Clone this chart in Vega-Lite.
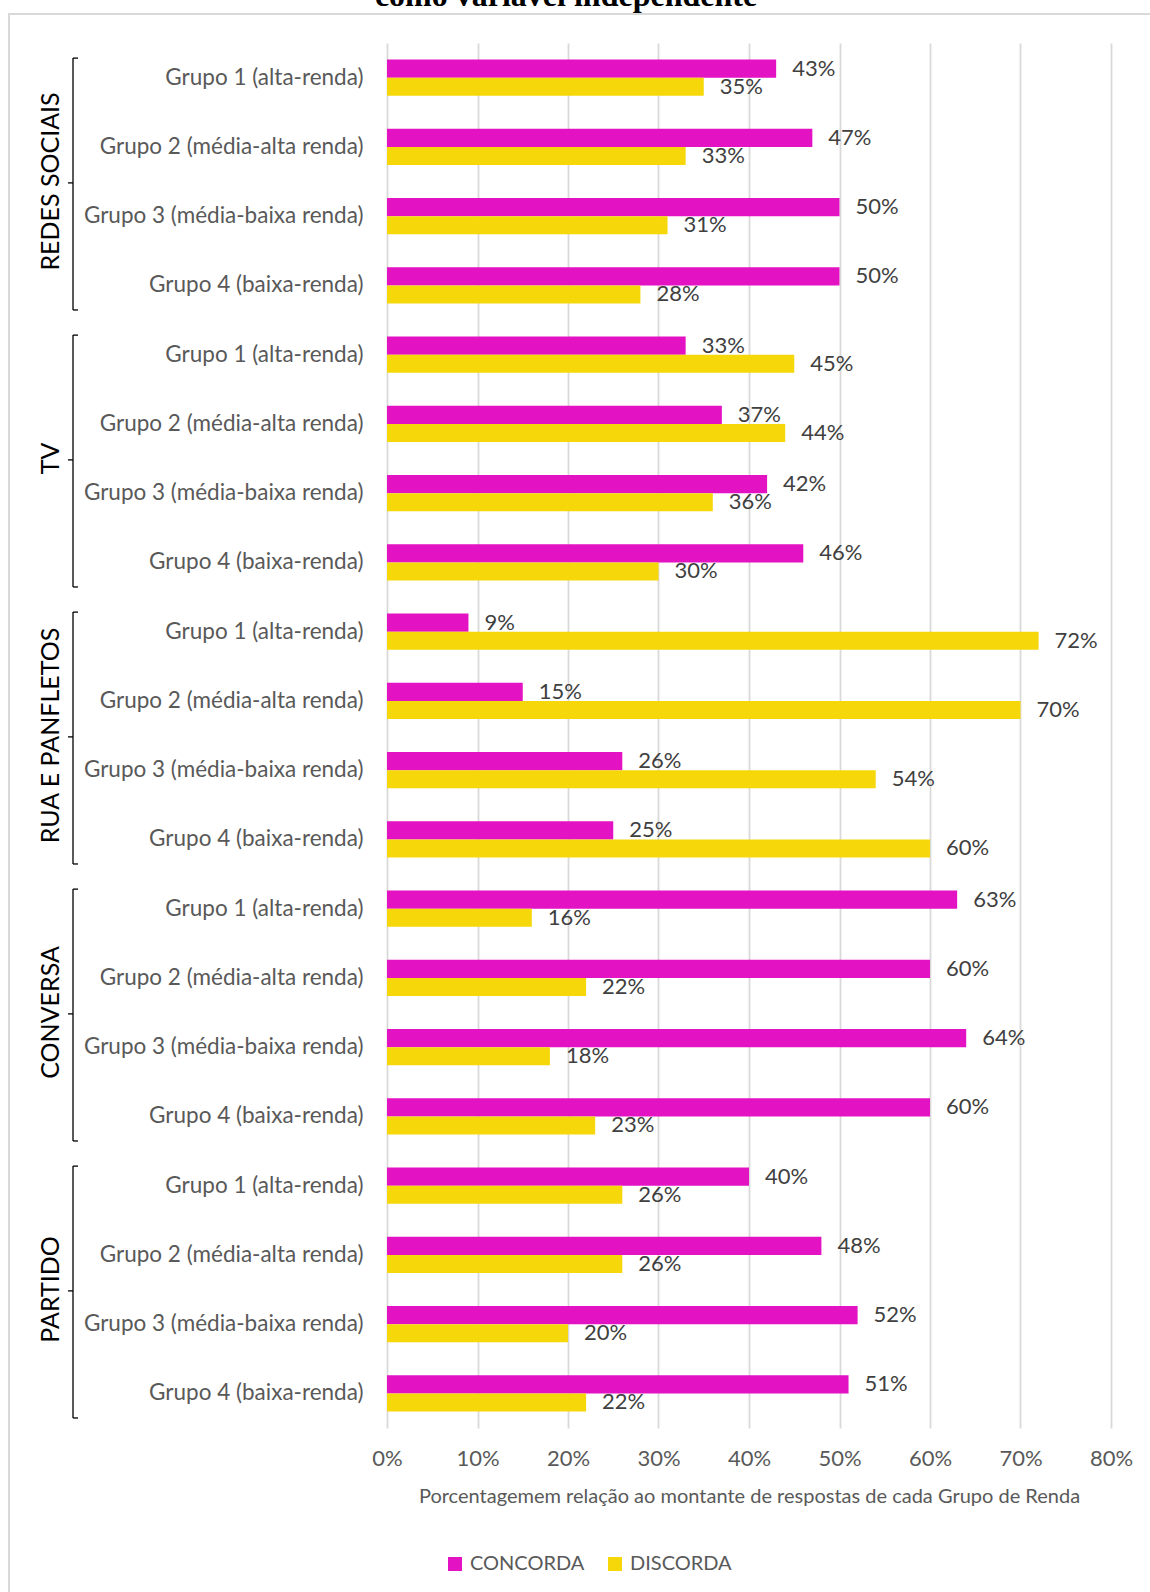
{
  "$schema": "https://vega.github.io/schema/vega-lite/v6.json",
  "autosize": {"type": "none"},
  "padding": {"left": 387, "top": 43, "right": 39, "bottom": 164},
  "width": 724,
  "height": 1385,
  "background": "#ffffff",
  "title": {"text": "como variável independente", "font": "Liberation Serif", "fontSize": 32, "fontWeight": "bold", "color": "#000000", "baseline": "alphabetic", "offset": -25, "dx": -183, "frame": "group", "anchor": "middle"},
  "config": {"view": {"stroke": null}, "font": "Lato"},
  "layer": [
    {
      "data": {"values": [{}]},
      "mark": {"type": "rect", "fill": "transparent", "stroke": "#d9d9d9", "strokeWidth": 2},
      "encoding": {
        "x": {"datum": -0.4177, "type": "quantitative", "scale": {"domain": [0, 0.8], "nice": false, "zero": false}},
        "x2": {"datum": 0.9},
        "y": {"datum": 1.0209, "type": "quantitative", "scale": {"domain": [0, 1], "nice": false, "zero": false}, "axis": null},
        "y2": {"datum": -0.3}
      }
    },
    {
      "data": {"values": [
        {"categoria": "REDES SOCIAIS", "grupo": "Grupo 1 (alta-renda)", "linha": "REDES SOCIAIS|Grupo 1 (alta-renda)", "serie": "CONCORDA", "valor": 0.43},
        {"categoria": "REDES SOCIAIS", "grupo": "Grupo 1 (alta-renda)", "linha": "REDES SOCIAIS|Grupo 1 (alta-renda)", "serie": "DISCORDA", "valor": 0.35},
        {"categoria": "REDES SOCIAIS", "grupo": "Grupo 2 (média-alta renda)", "linha": "REDES SOCIAIS|Grupo 2 (média-alta renda)", "serie": "CONCORDA", "valor": 0.47},
        {"categoria": "REDES SOCIAIS", "grupo": "Grupo 2 (média-alta renda)", "linha": "REDES SOCIAIS|Grupo 2 (média-alta renda)", "serie": "DISCORDA", "valor": 0.33},
        {"categoria": "REDES SOCIAIS", "grupo": "Grupo 3 (média-baixa renda)", "linha": "REDES SOCIAIS|Grupo 3 (média-baixa renda)", "serie": "CONCORDA", "valor": 0.50},
        {"categoria": "REDES SOCIAIS", "grupo": "Grupo 3 (média-baixa renda)", "linha": "REDES SOCIAIS|Grupo 3 (média-baixa renda)", "serie": "DISCORDA", "valor": 0.31},
        {"categoria": "REDES SOCIAIS", "grupo": "Grupo 4 (baixa-renda)", "linha": "REDES SOCIAIS|Grupo 4 (baixa-renda)", "serie": "CONCORDA", "valor": 0.50},
        {"categoria": "REDES SOCIAIS", "grupo": "Grupo 4 (baixa-renda)", "linha": "REDES SOCIAIS|Grupo 4 (baixa-renda)", "serie": "DISCORDA", "valor": 0.28},
        {"categoria": "TV", "grupo": "Grupo 1 (alta-renda)", "linha": "TV|Grupo 1 (alta-renda)", "serie": "CONCORDA", "valor": 0.33},
        {"categoria": "TV", "grupo": "Grupo 1 (alta-renda)", "linha": "TV|Grupo 1 (alta-renda)", "serie": "DISCORDA", "valor": 0.45},
        {"categoria": "TV", "grupo": "Grupo 2 (média-alta renda)", "linha": "TV|Grupo 2 (média-alta renda)", "serie": "CONCORDA", "valor": 0.37},
        {"categoria": "TV", "grupo": "Grupo 2 (média-alta renda)", "linha": "TV|Grupo 2 (média-alta renda)", "serie": "DISCORDA", "valor": 0.44},
        {"categoria": "TV", "grupo": "Grupo 3 (média-baixa renda)", "linha": "TV|Grupo 3 (média-baixa renda)", "serie": "CONCORDA", "valor": 0.42},
        {"categoria": "TV", "grupo": "Grupo 3 (média-baixa renda)", "linha": "TV|Grupo 3 (média-baixa renda)", "serie": "DISCORDA", "valor": 0.36},
        {"categoria": "TV", "grupo": "Grupo 4 (baixa-renda)", "linha": "TV|Grupo 4 (baixa-renda)", "serie": "CONCORDA", "valor": 0.46},
        {"categoria": "TV", "grupo": "Grupo 4 (baixa-renda)", "linha": "TV|Grupo 4 (baixa-renda)", "serie": "DISCORDA", "valor": 0.30},
        {"categoria": "RUA E PANFLETOS", "grupo": "Grupo 1 (alta-renda)", "linha": "RUA E PANFLETOS|Grupo 1 (alta-renda)", "serie": "CONCORDA", "valor": 0.09},
        {"categoria": "RUA E PANFLETOS", "grupo": "Grupo 1 (alta-renda)", "linha": "RUA E PANFLETOS|Grupo 1 (alta-renda)", "serie": "DISCORDA", "valor": 0.72},
        {"categoria": "RUA E PANFLETOS", "grupo": "Grupo 2 (média-alta renda)", "linha": "RUA E PANFLETOS|Grupo 2 (média-alta renda)", "serie": "CONCORDA", "valor": 0.15},
        {"categoria": "RUA E PANFLETOS", "grupo": "Grupo 2 (média-alta renda)", "linha": "RUA E PANFLETOS|Grupo 2 (média-alta renda)", "serie": "DISCORDA", "valor": 0.70},
        {"categoria": "RUA E PANFLETOS", "grupo": "Grupo 3 (média-baixa renda)", "linha": "RUA E PANFLETOS|Grupo 3 (média-baixa renda)", "serie": "CONCORDA", "valor": 0.26},
        {"categoria": "RUA E PANFLETOS", "grupo": "Grupo 3 (média-baixa renda)", "linha": "RUA E PANFLETOS|Grupo 3 (média-baixa renda)", "serie": "DISCORDA", "valor": 0.54},
        {"categoria": "RUA E PANFLETOS", "grupo": "Grupo 4 (baixa-renda)", "linha": "RUA E PANFLETOS|Grupo 4 (baixa-renda)", "serie": "CONCORDA", "valor": 0.25},
        {"categoria": "RUA E PANFLETOS", "grupo": "Grupo 4 (baixa-renda)", "linha": "RUA E PANFLETOS|Grupo 4 (baixa-renda)", "serie": "DISCORDA", "valor": 0.60},
        {"categoria": "CONVERSA", "grupo": "Grupo 1 (alta-renda)", "linha": "CONVERSA|Grupo 1 (alta-renda)", "serie": "CONCORDA", "valor": 0.63},
        {"categoria": "CONVERSA", "grupo": "Grupo 1 (alta-renda)", "linha": "CONVERSA|Grupo 1 (alta-renda)", "serie": "DISCORDA", "valor": 0.16},
        {"categoria": "CONVERSA", "grupo": "Grupo 2 (média-alta renda)", "linha": "CONVERSA|Grupo 2 (média-alta renda)", "serie": "CONCORDA", "valor": 0.60},
        {"categoria": "CONVERSA", "grupo": "Grupo 2 (média-alta renda)", "linha": "CONVERSA|Grupo 2 (média-alta renda)", "serie": "DISCORDA", "valor": 0.22},
        {"categoria": "CONVERSA", "grupo": "Grupo 3 (média-baixa renda)", "linha": "CONVERSA|Grupo 3 (média-baixa renda)", "serie": "CONCORDA", "valor": 0.64},
        {"categoria": "CONVERSA", "grupo": "Grupo 3 (média-baixa renda)", "linha": "CONVERSA|Grupo 3 (média-baixa renda)", "serie": "DISCORDA", "valor": 0.18},
        {"categoria": "CONVERSA", "grupo": "Grupo 4 (baixa-renda)", "linha": "CONVERSA|Grupo 4 (baixa-renda)", "serie": "CONCORDA", "valor": 0.60},
        {"categoria": "CONVERSA", "grupo": "Grupo 4 (baixa-renda)", "linha": "CONVERSA|Grupo 4 (baixa-renda)", "serie": "DISCORDA", "valor": 0.23},
        {"categoria": "PARTIDO", "grupo": "Grupo 1 (alta-renda)", "linha": "PARTIDO|Grupo 1 (alta-renda)", "serie": "CONCORDA", "valor": 0.40},
        {"categoria": "PARTIDO", "grupo": "Grupo 1 (alta-renda)", "linha": "PARTIDO|Grupo 1 (alta-renda)", "serie": "DISCORDA", "valor": 0.26},
        {"categoria": "PARTIDO", "grupo": "Grupo 2 (média-alta renda)", "linha": "PARTIDO|Grupo 2 (média-alta renda)", "serie": "CONCORDA", "valor": 0.48},
        {"categoria": "PARTIDO", "grupo": "Grupo 2 (média-alta renda)", "linha": "PARTIDO|Grupo 2 (média-alta renda)", "serie": "DISCORDA", "valor": 0.26},
        {"categoria": "PARTIDO", "grupo": "Grupo 3 (média-baixa renda)", "linha": "PARTIDO|Grupo 3 (média-baixa renda)", "serie": "CONCORDA", "valor": 0.52},
        {"categoria": "PARTIDO", "grupo": "Grupo 3 (média-baixa renda)", "linha": "PARTIDO|Grupo 3 (média-baixa renda)", "serie": "DISCORDA", "valor": 0.20},
        {"categoria": "PARTIDO", "grupo": "Grupo 4 (baixa-renda)", "linha": "PARTIDO|Grupo 4 (baixa-renda)", "serie": "CONCORDA", "valor": 0.51},
        {"categoria": "PARTIDO", "grupo": "Grupo 4 (baixa-renda)", "linha": "PARTIDO|Grupo 4 (baixa-renda)", "serie": "DISCORDA", "valor": 0.22}
      ]},
      "encoding": {
        "y": {"field": "linha", "type": "nominal", "sort": null,
          "scale": {"paddingInner": 0.48, "paddingOuter": 0.24},
          "axis": {"title": null, "domain": false, "ticks": false, "labelExpr": "split(datum.label, '|')[1]", "labelFontSize": 22.5, "labelColor": "#595959", "labelPadding": 24, "labelFont": "Lato", "labelLimit": 400}}
      },
      "layer": [
        {
          "mark": {"type": "bar"},
          "encoding": {
            "x": {"field": "valor", "type": "quantitative",
              "scale": {"domain": [0, 0.8], "nice": false},
              "axis": {"values": [0, 0.1, 0.2, 0.3, 0.4, 0.5, 0.6, 0.7, 0.8], "format": ".0%", "grid": true, "gridColor": "#d9d9d9", "gridWidth": 1.8, "domain": false, "ticks": false, "labelFlush": false, "labelOverlap": false, "labelFontSize": 22, "labelColor": "#595959", "labelPadding": 20, "labelFont": "Lato",
                "title": "Porcentagemem relação ao montante de respostas de cada Grupo de Renda", "titleFont": "Lato", "titleFontSize": 20, "titleFontWeight": "normal", "titleColor": "#595959", "titlePadding": 17}},
            "yOffset": {"field": "serie", "type": "nominal", "sort": ["CONCORDA", "DISCORDA"]},
            "color": {"field": "serie", "type": "nominal",
              "scale": {"domain": ["CONCORDA", "DISCORDA"], "range": ["#E312C2", "#F5D70A"]},
              "legend": {"orient": "none", "legendX": 58, "legendY": 1511, "direction": "horizontal", "title": null, "symbolType": "square", "symbolSize": 196, "symbolStrokeWidth": 0, "symbolOpacity": 1, "labelFontSize": 20, "labelColor": "#595959", "labelFont": "Lato", "columnPadding": 20, "labelOffset": 5, "padding": 0}}
          }
        },
        {
          "mark": {"type": "text", "align": "left", "baseline": "middle", "dx": 16, "fontSize": 22, "font": "Lato", "color": "#404040"},
          "encoding": {
            "x": {"field": "valor", "type": "quantitative"},
            "yOffset": {"field": "serie", "type": "nominal", "sort": ["CONCORDA", "DISCORDA"]},
            "text": {"field": "valor", "type": "quantitative", "format": ".0%"}
          }
        },
        {
          "data": {"name": "grupos", "values": [
            {"categoria": "REDES SOCIAIS", "primeira": "REDES SOCIAIS|Grupo 1 (alta-renda)", "segunda": "REDES SOCIAIS|Grupo 2 (média-alta renda)", "ultima": "REDES SOCIAIS|Grupo 4 (baixa-renda)"},
            {"categoria": "TV", "primeira": "TV|Grupo 1 (alta-renda)", "segunda": "TV|Grupo 2 (média-alta renda)", "ultima": "TV|Grupo 4 (baixa-renda)"},
            {"categoria": "RUA E PANFLETOS", "primeira": "RUA E PANFLETOS|Grupo 1 (alta-renda)", "segunda": "RUA E PANFLETOS|Grupo 2 (média-alta renda)", "ultima": "RUA E PANFLETOS|Grupo 4 (baixa-renda)"},
            {"categoria": "CONVERSA", "primeira": "CONVERSA|Grupo 1 (alta-renda)", "segunda": "CONVERSA|Grupo 2 (média-alta renda)", "ultima": "CONVERSA|Grupo 4 (baixa-renda)"},
            {"categoria": "PARTIDO", "primeira": "PARTIDO|Grupo 1 (alta-renda)", "segunda": "PARTIDO|Grupo 2 (média-alta renda)", "ultima": "PARTIDO|Grupo 4 (baixa-renda)"}
          ]},
          "layer": [
            {
              "mark": {"type": "rule", "color": "#000000", "strokeWidth": 1.3, "yOffset": -1.5, "y2Offset": 24.6},
              "encoding": {
                "x": {"datum": -0.34696, "type": "quantitative"},
                "y": {"field": "primeira", "type": "nominal", "bandPosition": 0},
                "y2": {"field": "ultima"}
              }
            },
            {
              "mark": {"type": "rule", "color": "#000000", "strokeWidth": 1.3, "yOffset": -1.5},
              "encoding": {
                "x": {"datum": -0.34696, "type": "quantitative"},
                "x2": {"datum": -0.34144},
                "y": {"field": "primeira", "type": "nominal", "bandPosition": 0}
              }
            },
            {
              "mark": {"type": "rule", "color": "#000000", "strokeWidth": 1.3, "yOffset": 24.6},
              "encoding": {
                "x": {"datum": -0.34696, "type": "quantitative"},
                "x2": {"datum": -0.34144},
                "y": {"field": "ultima", "type": "nominal"}
              }
            },
            {
              "mark": {"type": "rule", "color": "#000000", "strokeWidth": 1.3},
              "encoding": {
                "x": {"datum": -0.34696, "type": "quantitative"},
                "x2": {"datum": -0.35249},
                "y": {"field": "segunda", "type": "nominal", "bandPosition": 1.5}
              }
            },
            {
              "mark": {"type": "text", "angle": 270, "align": "center", "baseline": "middle", "fontSize": 25, "font": "Lato", "color": "#000000"},
              "encoding": {
                "x": {"datum": -0.3715, "type": "quantitative"},
                "y": {"field": "segunda", "type": "nominal", "bandPosition": 1.461},
                "text": {"field": "categoria", "type": "nominal"}
              }
            }
          ]
        }
      ]
    }
  ],
  "resolve": {"scale": {"y": "independent"}}
}
